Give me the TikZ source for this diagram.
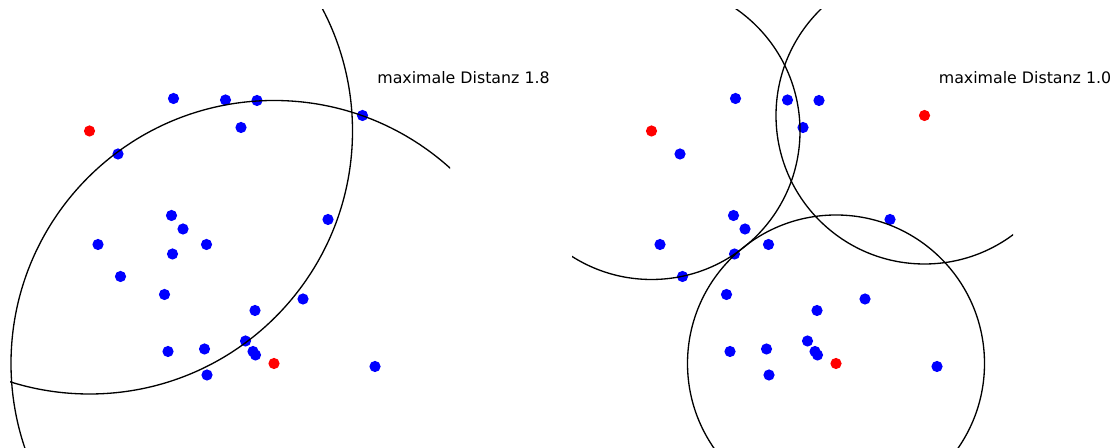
\documentclass[tikz,border=0pt]{standalone}
\usepackage{fontspec}
\setmainfont{DejaVu Sans}
\usepackage{tikz}
\usepackage{xcolor}

\begin{document}
\begin{tikzpicture}[font=\fontsize{9}{10}\selectfont,line cap=round]
\useasboundingbox (0,0) rectangle (22.38,8.96);
% maximale Distanz 1.8
\begin{scope}
\clip (0.2,0) rectangle (9.0,8.76);
\fill[blue] (3.47,6.99) circle (0.112) (4.51,6.96) circle (0.112) (5.14,6.95) circle (0.112)
  (4.82,6.41) circle (0.112) (7.25,6.65) circle (0.112) (2.36,5.88) circle (0.112)
  (3.43,4.65) circle (0.112) (3.66,4.38) circle (0.112) (4.13,4.07) circle (0.112)
  (1.96,4.07) circle (0.112) (3.45,3.88) circle (0.112) (6.56,4.57) circle (0.112)
  (2.41,3.43) circle (0.112) (3.29,3.07) circle (0.112) (6.06,2.98) circle (0.112)
  (5.10,2.75) circle (0.112) (4.91,2.14) circle (0.112) (3.36,1.93) circle (0.112)
  (4.09,1.98) circle (0.112) (5.06,1.93) circle (0.112) (5.11,1.86) circle (0.112)
  (4.14,1.46) circle (0.112) (7.50,1.63) circle (0.112);
\fill[red] (1.79,6.34) circle (0.112);
\fill[red] (5.48,1.69) circle (0.112);
\draw[line width=0.75pt] (1.79,6.34) circle (5.26);
\draw[line width=0.75pt] (5.48,1.69) circle (5.26);
\end{scope}
\node[anchor=base west,inner sep=0pt] at (7.54,7.28) {maximale Distanz 1.8};
% maximale Distanz 1.0
\begin{scope}[xshift=11.24cm]
\clip (0.2,0) rectangle (9.02,8.76);
\fill[blue] (3.47,6.99) circle (0.112) (4.51,6.96) circle (0.112) (5.14,6.95) circle (0.112)
  (4.82,6.41) circle (0.112) (2.36,5.88) circle (0.112)
  (3.43,4.65) circle (0.112) (3.66,4.38) circle (0.112) (4.13,4.07) circle (0.112)
  (1.96,4.07) circle (0.112) (3.45,3.88) circle (0.112) (6.56,4.57) circle (0.112)
  (2.41,3.43) circle (0.112) (3.29,3.07) circle (0.112) (6.06,2.98) circle (0.112)
  (5.10,2.75) circle (0.112) (4.91,2.14) circle (0.112) (3.36,1.93) circle (0.112)
  (4.09,1.98) circle (0.112) (5.06,1.93) circle (0.112) (5.11,1.86) circle (0.112)
  (4.14,1.46) circle (0.112) (7.50,1.63) circle (0.112);
\fill[red] (1.79,6.34) circle (0.112);
\fill[red] (7.25,6.65) circle (0.112);
\fill[red] (5.48,1.69) circle (0.112);
\draw[line width=0.75pt] (1.79,6.34) circle (2.97);
\draw[line width=0.75pt] (7.25,6.65) circle (2.97);
\draw[line width=0.75pt] (5.48,1.69) circle (2.97);
\end{scope}
\node[anchor=base west,inner sep=0pt] at (18.77,7.28) {maximale Distanz 1.0};
\end{tikzpicture}
\end{document}
